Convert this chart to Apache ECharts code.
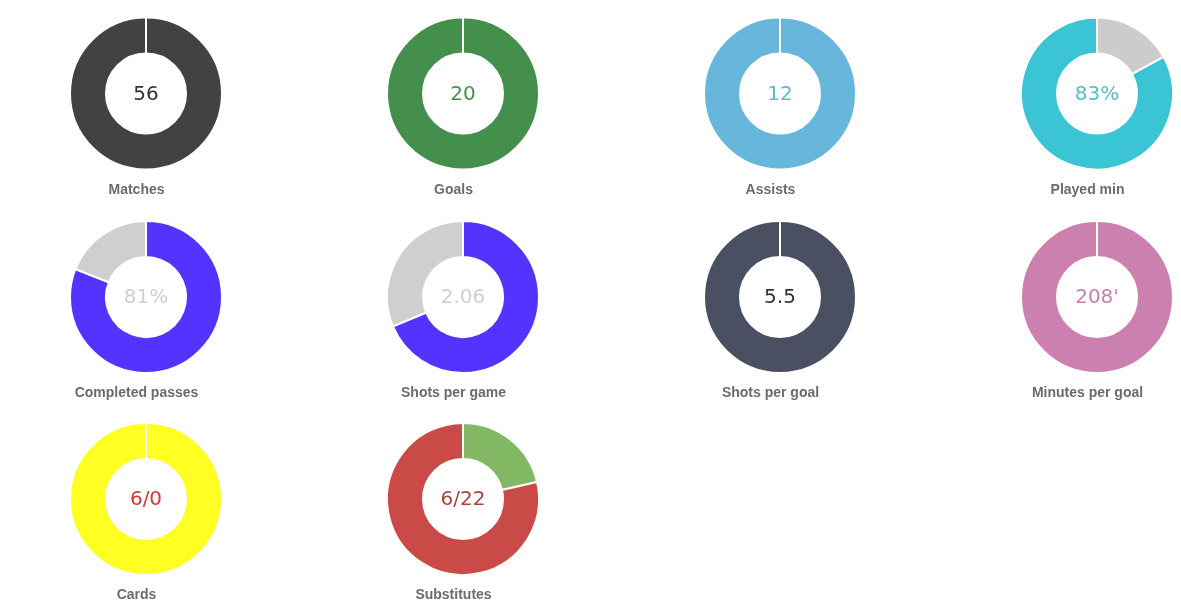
<!DOCTYPE html>
<html>
<head>
<meta charset="utf-8">
<script src="https://cdn.jsdelivr.net/npm/echarts@6/dist/echarts.min.js"></script>
<style>
html,body{margin:0;padding:0;background:#fff;}
#chart{width:1181px;height:615px;}
</style>
</head>
<body>
<div id="chart"></div>
<script>
var titles = ['Matches','Goals','Assists','Played min','Completed passes','Shots per game','Shots per goal','Minutes per goal','Cards','Substitutes'];
var centerTexts = ['56','20','12','83%','81%','2.06','5.5',"208'",'6/0','6/22'];
var firstValues = [56, 20, 12, 17, 81, 2.06, 5.5, 208, 6, 6];
var secondValues = [0, 0, 0, 83, 19, 0.94, 0, 0, 0, 22];
var firstColors = ['#424242','#438f4b','#67b6dc','#cccccc','#5533ff','#5533ff','#4a5061','#cc80af','#ffff22','#83b865'];
var secondColors = ['#424242','#438f4b','#67b6dc','#3ac4d4','#cfcfcf','#cfcfcf','#4a5061','#cc80af','#ffff22','#c94a47'];
var labelColors = ['#333333','#438f4b','#5bbcc9','#5bbcc9','#cfcfcf','#cfcfcf','#333333','#c97fab','#cc3b33','#a04646'];

var colX = [146, 463, 780, 1097];
var rowY = [93.5, 297, 499];
var titleOffsetY = 96.5;
var titleOffsetX = -9.5;

var series = [];
var graphics = [];
titles.forEach(function (t, i) {
  var cx = colX[i % 4], cy = rowY[Math.floor(i / 4)];
  series.push({
    type: 'pie',
    center: [cx, cy],
    radius: [40, 76],
    startAngle: 90,
    clockwise: true,
    silent: true,
    avoidLabelOverlap: false,
    emphasis: {disabled: true},
    labelLine: {show: false},
    itemStyle: {borderColor: '#ffffff', borderWidth: 2},
    label: {show: false},
    data: [
      {value: firstValues[i], name: t + ' a', itemStyle: {color: firstColors[i]},
       label: {show: true, position: 'center', formatter: centerTexts[i], offset: [0, 1],
               color: labelColors[i], fontSize: 20, fontFamily: 'DejaVu Sans'}},
      {value: secondValues[i], name: t + ' b', itemStyle: {color: secondColors[i]}}
    ]
  });
  graphics.push({
    type: 'text',
    x: cx + titleOffsetX, y: cy + titleOffsetY,
    style: {text: t, align: 'center', verticalAlign: 'middle',
            fill: '#6b6b6b', font: 'bold 14px "Liberation Sans", Arial, sans-serif'}
  });
});

var chart = echarts.init(document.getElementById('chart'), null, {renderer: 'canvas'});
chart.setOption({
  animation: false,
  backgroundColor: '#ffffff',
  series: series,
  graphic: graphics
});
</script>
</body>
</html>
